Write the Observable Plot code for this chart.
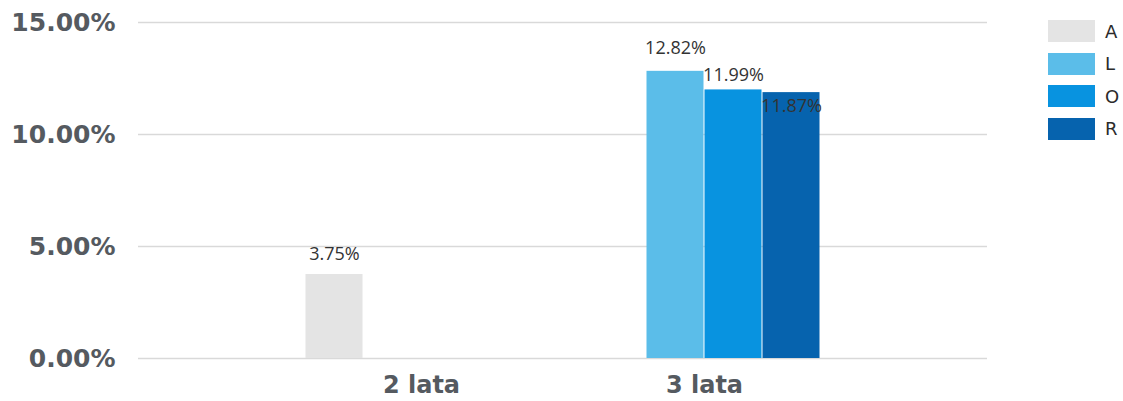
<!DOCTYPE html>
<html>
<head>
<meta charset="utf-8">
<script src="https://cdn.jsdelivr.net/npm/d3@7"></script>
<script src="https://cdn.jsdelivr.net/npm/@observablehq/plot@0.6"></script>
<style>
  html, body { margin: 0; padding: 0; background: #fff; }
  #wrap { position: relative; width: 1123px; height: 401px; overflow: hidden; }
  #wrap svg { position: absolute; left: 0; top: 0; }
  #legend { position: absolute; left: 1048px; top: 15px; font-family: "DejaVu Sans", sans-serif; font-size: 18px; color: #2b2b2b; }
  #legend .item { display: flex; align-items: center; height: 32.5px; }
  #legend .sw { width: 47px; height: 22px; margin-right: 10px; }
</style>
</head>
<body>
<div id="wrap"></div>
<script>
// ---- data ----
const categories = ["2 lata", "3 lata"];
const seriesNames = ["A", "L", "O", "R"];
const seriesColors = ["#e4e4e4", "#5bbde9", "#0893e0", "#0663ae"];
// values in percent; null = no bar
const valuesA = [3.75, null];
const valuesL = [null, 12.82];
const valuesO = [null, 11.99];
const valuesR = [null, 11.87];
const yTicks = [0, 5, 10, 15];

const seriesValues = {A: valuesA, L: valuesL, O: valuesO, R: valuesR};
const data = [];
for (const s of seriesNames) {
  categories.forEach((c, i) => {
    const v = seriesValues[s][i];
    if (v != null) data.push({category: c, series: s, value: v});
  });
}

const W = 1123, H = 401;
const margins = {marginLeft: 138, marginRight: 136, marginTop: 22, marginBottom: 43};
const yScale = {domain: [0, 15], range: [H - 43, 22]};
const fmt = d => d.toFixed(2) + "%";

// Layer 1: y axis + continuous gridlines
const back = Plot.plot({
  width: W, height: H, ...margins,
  style: {background: "transparent", overflow: "visible"},
  y: {...yScale, ticks: yTicks},
  marks: [
    Plot.gridY(yTicks, {stroke: "#d9d9d9", strokeOpacity: 1, strokeWidth: 1.3}),
    Plot.axisY(yTicks, {tickSize: 0, tickPadding: 23, tickFormat: fmt, fontSize: 25, fontWeight: "bold",
      fill: "#555a60", fontFamily: "'DejaVu Sans', Verdana, sans-serif", label: null})
  ]
});

// Layer 2: grouped bars
const styleDy = {A: [-15, "bottom"], L: [-17, "bottom"], O: [-9, "bottom"], R: [7, "top"]};
const front = Plot.plot({
  width: W, height: H, ...margins,
  style: {background: "transparent", overflow: "visible"},
  fx: {domain: categories, paddingInner: 0.18, paddingOuter: 0.59, label: null},
  x: {domain: seriesNames, padding: 0, axis: null},
  y: {...yScale, axis: null},
  color: {domain: seriesNames, range: seriesColors},
  marks: [
    Plot.barY(data, {fx: "category", x: "series", y: "value", fill: "series", insetLeft: 0.5, insetRight: 0.5}),
    ...seriesNames.map(s => Plot.text(data.filter(d => d.series === s), {
      fx: "category", x: "series", y: "value", text: d => fmt(d.value),
      dy: styleDy[s][0], lineAnchor: styleDy[s][1],
      fontSize: 18, fill: "#333", fontFamily: "'Open Sans', sans-serif"
    })),
    Plot.axisFx({anchor: "bottom", tickSize: 0, tickPadding: 17, fontSize: 24, fontWeight: "bold", fill: "#555a60",
      fontFamily: "'DejaVu Sans', Verdana, sans-serif", label: null})
  ]
});

const wrap = document.getElementById("wrap");
wrap.appendChild(back);
wrap.appendChild(front);

const legend = document.createElement("div");
legend.id = "legend";
seriesNames.forEach((s, i) => {
  const item = document.createElement("div");
  item.className = "item";
  const sw = document.createElement("span");
  sw.className = "sw";
  sw.style.background = seriesColors[i];
  const lab = document.createElement("span");
  lab.textContent = s;
  item.appendChild(sw);
  item.appendChild(lab);
  legend.appendChild(item);
});
wrap.appendChild(legend);
</script>
</body>
</html>
